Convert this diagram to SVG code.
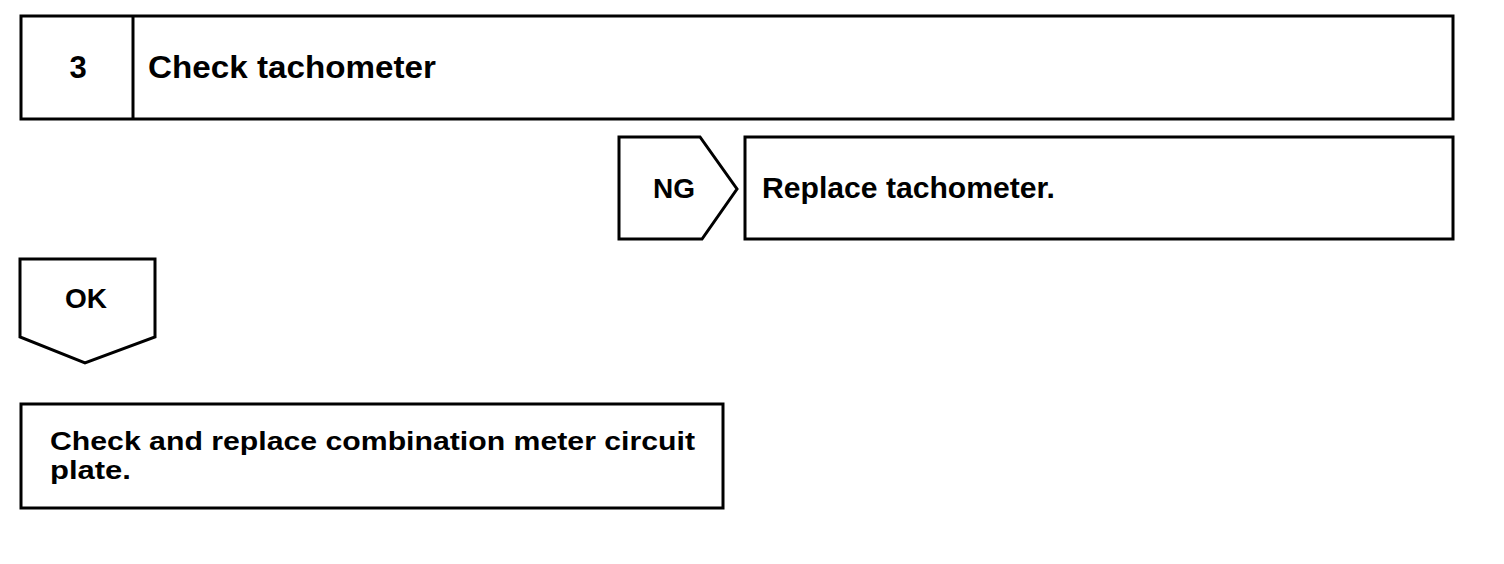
<svg xmlns="http://www.w3.org/2000/svg" width="1504" height="564" viewBox="0 0 1504 564">
<style>
.b{fill:#fff;stroke:#000;stroke-width:3}
.t{font-family:"Liberation Sans",Arial,sans-serif;font-weight:bold;fill:#000}
</style>
<rect width="1504" height="564" fill="#fff"/>
<g id="step3">
<rect class="b" x="21" y="16" width="1432" height="103"/>
<line x1="133" y1="16" x2="133" y2="119" stroke="#000" stroke-width="3"/>
<text class="t" x="78" y="78" font-size="31" text-anchor="middle">3</text>
<text class="t" x="148" y="78" font-size="31" textLength="288" lengthAdjust="spacingAndGlyphs">Check tachometer</text>
</g>
<g id="connectors">
<g id="ng">
<polygon class="b" points="619,137 700,137 737,189 702,239 619,239"/>
<text class="t" x="674" y="198" font-size="28" text-anchor="middle">NG</text>
</g>
<g id="ok">
<polygon class="b" points="20,259 155,259 155,337 85,363 20,337"/>
<text class="t" x="86" y="308" font-size="28" text-anchor="middle">OK</text>
</g>
</g>
<g id="replace">
<rect class="b" x="745" y="137" width="708" height="102"/>
<text class="t" x="762" y="198" font-size="29" textLength="293" lengthAdjust="spacingAndGlyphs">Replace tachometer.</text>
</g>
<g id="plate">
<rect class="b" x="21" y="404" width="702" height="104"/>
<text class="t" x="50" y="450" font-size="26" textLength="645" lengthAdjust="spacingAndGlyphs">Check and replace combination meter circuit</text>
<text class="t" x="50" y="479" font-size="26" textLength="81" lengthAdjust="spacingAndGlyphs">plate.</text>
</g>
</svg>
